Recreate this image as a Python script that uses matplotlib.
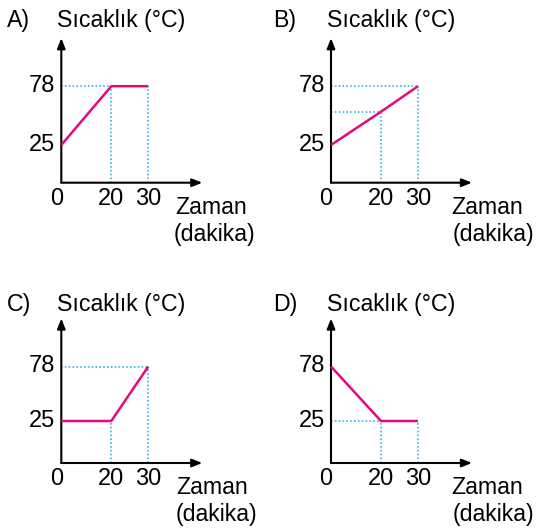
import numpy as np
import matplotlib
matplotlib.use("Agg")
import matplotlib.pyplot as plt

# ---------------- data ----------------
panel_letters = ["A)", "B)", "C)", "D)"]
y_title = "Sıcaklık (°C)"
x_title_1 = "Zaman"
x_title_2 = "(dakika)"
time_ticks = [0, 20, 30]
temp_ticks = [25, 78]

curve_time_A = [0, 20, 30]
curve_temp_A = [25, 78, 78]
curve_time_B = [0, 20, 30]
curve_temp_B = [25, 55, 78]
curve_time_C = [0, 20, 30]
curve_temp_C = [25, 25, 78]
curve_time_D = [0, 20, 30]
curve_temp_D = [78, 25, 25]

curves = [(curve_time_A, curve_temp_A), (curve_time_B, curve_temp_B),
          (curve_time_C, curve_temp_C), (curve_time_D, curve_temp_D)]

# ---------------- layout (pixels) ----------------
W, H = 536, 529
DPI = 100
origins = [(61.3, 182.7), (331.0, 182.7), (61.3, 463.0), (331.0, 463.0)]
x_anchor_px = [0, 50, 87]            # schematic positions for 0, 20, 30
y_anchor_px_top = [0, 37.7, 96.5]    # schematic positions for 0, 25, 78
y_anchor_px_bot = [0, 42.0, 96.5]
XLEN, YLEN = 141, 144.5
letter_pos = [(7, 20), (272.7, 20), (7, 305), (272.7, 305)]
ytitle_pos = [(57.3, 20), (326.7, 20), (57.3, 305), (326.7, 305)]
xtitle_dx = [(113.7, 112), (120.7, 121.7), (114.7, 114), (120.7, 121.7)]

PINK = "#E5097F"
BLUE = "#35B3E8"
FS_TICK = 17
FS_TEXT = 16.7
plt.rcParams["font.family"] = ["Liberation Sans", "DejaVu Sans"]


def make_scale(vals, px):
    vals = np.asarray(vals, float)
    px = np.asarray(px, float)
    s0 = (px[1] - px[0]) / (vals[1] - vals[0])
    s1 = (px[-1] - px[-2]) / (vals[-1] - vals[-2])
    xv = np.concatenate([[vals[0] - 1e4], vals, [vals[-1] + 1e4]])
    xp = np.concatenate([[px[0] - 1e4 * s0], px, [px[-1] + 1e4 * s1]])
    fwd = lambda v: np.interp(np.asarray(v, float), xv, xp)
    inv = lambda p: np.interp(np.asarray(p, float), xp, xv)
    return fwd, inv


fig = plt.figure(figsize=(W / DPI, H / DPI), dpi=DPI)

for i, (times, temps) in enumerate(curves):
    ox, oy = origins[i]
    ax = fig.add_axes([ox / W, 1 - oy / H, XLEN / W, YLEN / H])
    ax.patch.set_alpha(0)
    for s in ax.spines.values():
        s.set_visible(False)

    fx, ix = make_scale([0, 20, 30], x_anchor_px)
    ypx = y_anchor_px_top if i < 2 else y_anchor_px_bot
    fy, iy = make_scale([0, 25, 78], ypx)
    ax.set_xscale("function", functions=(fx, ix))
    ax.set_yscale("function", functions=(fy, iy))
    ax.set_xlim(0, float(ix(XLEN)))
    ax.set_ylim(0, float(iy(YLEN)))
    ax.set_xticks([])
    ax.set_yticks([])

    # axes arrows
    arrow = dict(arrowstyle="-|>,head_length=0.3,head_width=0.12",
                 mutation_scale=20, color="black", lw=1.5,
                 shrinkA=0, shrinkB=0)
    ax.annotate("", xy=(1, 0), xytext=(0, 0), xycoords="axes fraction",
                textcoords="axes fraction", arrowprops=arrow)
    ax.annotate("", xy=(0, 1), xytext=(0, 0), xycoords="axes fraction",
                textcoords="axes fraction", arrowprops=arrow)

    # guide lines
    dot = dict(color=BLUE, lw=1.2, ls=(0, (1, 1.3)), clip_on=False, zorder=2)
    seen = [temps[0]]
    for t, v in zip(times[1:], temps[1:]):
        ax.plot([t, t], [0, v], **dot)
        if v not in seen:
            ax.plot([0, t], [v, v], **dot)
        seen.append(v)

    # curve
    ax.plot(times, temps, color=PINK, lw=1.8, clip_on=False, zorder=3,
            solid_capstyle="butt")

    # tick labels
    for t in time_ticks:
        ax.annotate(str(t), xy=(t, 0), xytext=(-5 if t == 0 else 0, -5),
                    textcoords="offset pixels", ha="center", va="top",
                    fontsize=FS_TICK, annotation_clip=False)
    for v in temp_ticks:
        ax.annotate(str(v), xy=(0, v), xytext=(-6, 0),
                    textcoords="offset pixels", ha="right", va="center",
                    fontsize=FS_TICK, annotation_clip=False)

    # titles
    lx, ly = letter_pos[i]
    fig.text(lx / W, 1 - ly / H, panel_letters[i], fontsize=FS_TEXT,
             ha="left", va="center")
    tx, ty = ytitle_pos[i]
    fig.text(tx / W, 1 - ty / H, y_title, fontsize=FS_TEXT,
             ha="left", va="center")
    d1, d2 = xtitle_dx[i]
    fig.text((ox + d1) / W, 1 - (oy + 25) / H, x_title_1, fontsize=FS_TEXT,
             ha="left", va="center")
    fig.text((ox + d2) / W, 1 - (oy + 52) / H, x_title_2, fontsize=FS_TEXT,
             ha="left", va="center")

fig.savefig("out.png", dpi=DPI)
